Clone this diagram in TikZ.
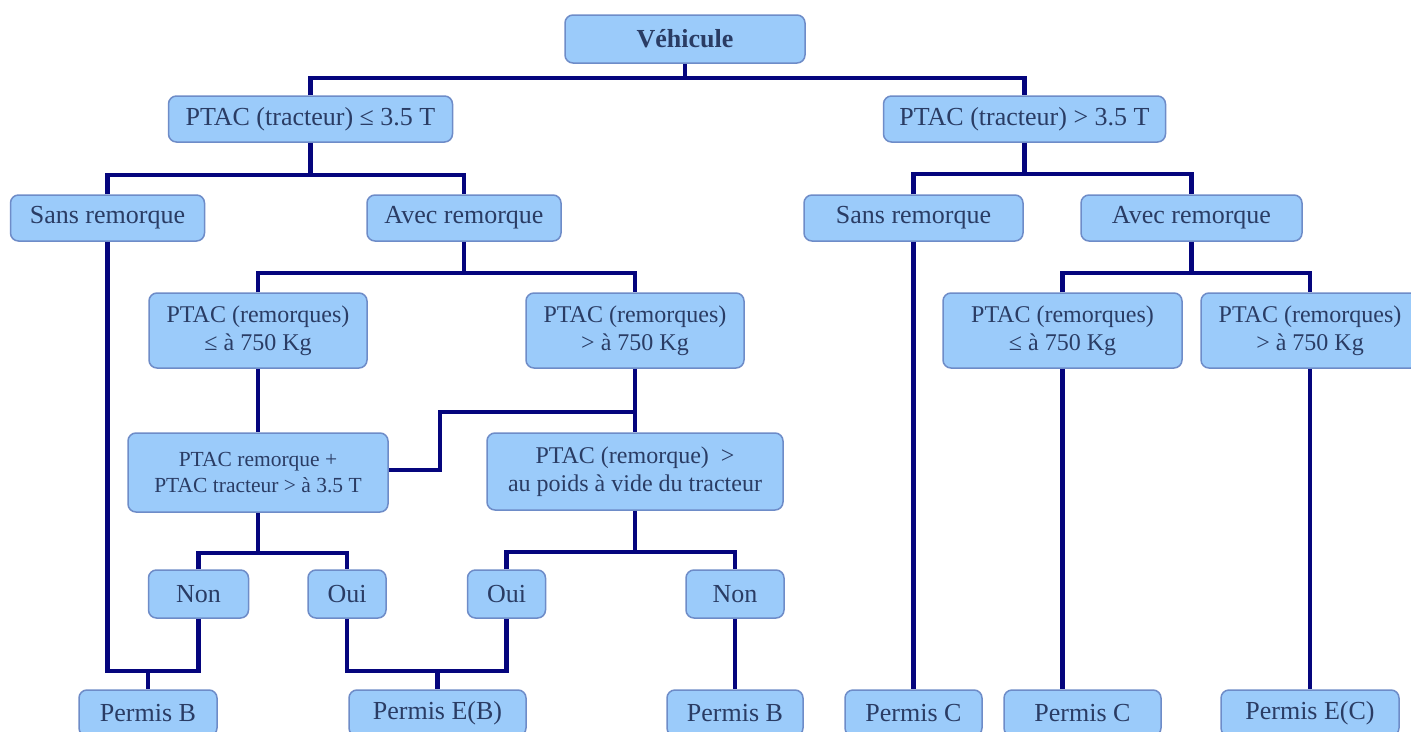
\documentclass[tikz,border=0pt]{standalone}
\usepackage{fontspec}
\setmainfont{Liberation Serif}
\definecolor{boxfill}{RGB}{155,203,250}
\definecolor{boxline}{RGB}{110,140,200}
\definecolor{txt}{RGB}{42,60,100}
\definecolor{wirec}{RGB}{5,5,125}
\tikzset{
 box/.style={draw=boxline, fill=boxfill, rounded corners=8pt, line width=1.5pt, text=txt, align=center, inner sep=0pt, font=\fontsize{26}{30}\selectfont},
 two/.style={font=\fontsize{24}{28}\selectfont},
 small/.style={font=\fontsize{21.5}{26}\selectfont},
 wire/.style={draw=wirec, line width=4.5pt},
}
\begin{document}
\begin{tikzpicture}[x=1pt,y={(0pt,-1pt)}]
\useasboundingbox (0,0) rectangle (1411,731);
\fill[white] (0,0) rectangle (1411,731);
\clip (0,0) rectangle (1411,731);
% nodes
\node[box, minimum width=240pt, minimum height=48pt] (veh) at (685,39) {\textbf{Véhicule}};
\node[box, minimum width=284pt, minimum height=46pt] (ptl) at (310.5,119) {PTAC (tracteur) ≤ 3.5 T};
\node[box, minimum width=282pt, minimum height=46pt] (ptr) at (1024.5,119) {PTAC (tracteur) > 3.5 T};
\node[box, minimum width=194pt, minimum height=46pt] (sl) at (107.5,218) {Sans remorque};
\node[box, minimum width=194pt, minimum height=46pt] (al) at (464,218) {Avec remorque};
\node[box, minimum width=219pt, minimum height=46pt] (sr) at (913.5,218) {Sans remorque};
\node[box, minimum width=221pt, minimum height=46pt] (ar) at (1191.5,218) {Avec remorque};
\node[box, two, minimum width=218pt, minimum height=75pt] (rl1) at (258,330.5) {PTAC (remorques)\\≤ à 750 Kg};
\node[box, two, minimum width=218pt, minimum height=75pt] (rl2) at (635,330.5) {PTAC (remorques)\\> à 750 Kg};
\node[box, two, minimum width=239pt, minimum height=75pt] (rr1) at (1062.5,330.5) {PTAC (remorques)\\≤ à 750 Kg};
\node[box, two, minimum width=218pt, minimum height=75pt] (rr2) at (1310,330.5) {PTAC (remorques)\\> à 750 Kg};
\node[box, small, minimum width=260pt, minimum height=79pt] (cl) at (258,472.5) {PTAC remorque +\\PTAC tracteur > à 3.5 T};
\node[box, two, minimum width=296pt, minimum height=77pt] (cr) at (635,471.5) {PTAC (remorque)~~>\\au poids à vide du tracteur};
\node[box, minimum width=100pt, minimum height=48pt] (n1) at (198.5,594) {Non};
\node[box, minimum width=78pt, minimum height=48pt] (o1) at (347,594) {Oui};
\node[box, minimum width=78pt, minimum height=48pt] (o2) at (506.5,594) {Oui};
\node[box, minimum width=98pt, minimum height=48pt] (n2) at (735,594) {Non};
\node[box, minimum width=138pt, minimum height=46pt] (pb1) at (148,713) {Permis B};
\node[box, minimum width=177pt, minimum height=46pt] (peb) at (437.5,713) {Permis E(B)};
\node[box, minimum width=136pt, minimum height=46pt] (pb2) at (735,713) {Permis B};
\node[box, minimum width=137pt, minimum height=46pt] (pc1) at (913.5,713) {Permis C};
\node[box, minimum width=157pt, minimum height=46pt] (pc2) at (1082.5,713) {Permis C};
\node[box, minimum width=178pt, minimum height=46pt] (pec) at (1310,713) {Permis E(C)};
% junctions
\coordinate (j0) at (685,78);
\coordinate (j1) at (310.5,175);
\coordinate (j2) at (148,671);
\coordinate (j3) at (464,273);
\coordinate (j4) at (635,412);
\coordinate (k1) at (440,412);
\coordinate (k2) at (440,470);
\coordinate (j5) at (258,553);
\coordinate (j6) at (635,552);
\coordinate (j7) at (437.5,671);
\coordinate (j8) at (1024.5,174);
\coordinate (j9) at (1191.5,273);
% connectors
\draw[wire] (veh.south) -- (j0);
\draw[wire] (ptl.north) |- (j0) -| (ptr.north);
\draw[wire] (ptl.south) -- (j1);
\draw[wire] (sl.north) |- (j1) -| (al.north);
\draw[wire] (sl.south) |- (j2) -| (n1.south);
\draw[wire] (j2) -- (pb1.north);
\draw[wire] (al.south) -- (j3);
\draw[wire] (rl1.north) |- (j3) -| (rl2.north);
\draw[wire] (rl1.south) -- (cl.north);
\draw[wire] (rl2.south) -- (cr.north);
\draw[wire] (j4) -- (k1) -- (k2) -- (k2 -| cl.east);
\draw[wire] (cl.south) -- (j5);
\draw[wire] (n1.north) |- (j5) -| (o1.north);
\draw[wire] (cr.south) -- (j6);
\draw[wire] (o2.north) |- (j6) -| (n2.north);
\draw[wire] (o1.south) |- (j7) -| (o2.south);
\draw[wire] (j7) -- (peb.north);
\draw[wire] (n2.south) -- (pb2.north);
\draw[wire] (ptr.south) -- (j8);
\draw[wire] (sr.north) |- (j8) -| (ar.north);
\draw[wire] (sr.south) -- (pc1.north);
\draw[wire] (ar.south) -- (j9);
\draw[wire] (rr1.north) |- (j9) -| (rr2.north);
\draw[wire] (rr1.south) -- (rr1.south |- pc2.north);
\draw[wire] (rr2.south) -- (pec.north);
\end{tikzpicture}
\end{document}
